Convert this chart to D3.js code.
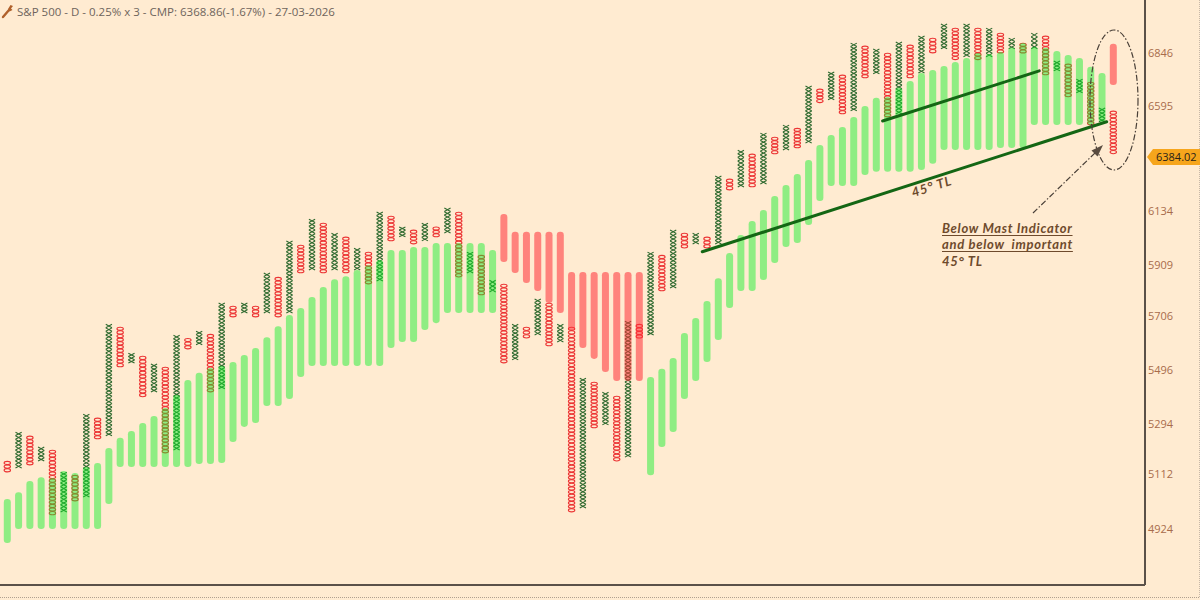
<!DOCTYPE html>
<html><head><meta charset="utf-8">
<script src="https://cdn.jsdelivr.net/npm/d3@7"></script>
<style>html,body{margin:0;padding:0;background:#FFEBD1;}svg{display:block;}</style>
</head><body>
<svg id="chart" width="1200" height="600"></svg>
<script>
// ---- DATA ----
const title = "S&P 500 - D - 0.25% x 3 - CMP: 6368.86(-1.67%) - 27-03-2026";
const tickValues = [6846, 6595, 6134, 5909, 5706, 5496, 5294, 5112, 4924];
const lastPrice = 6384.02;
const boxPct = 0.0025;
// column types (X rising, O falling)
const colType = ["O","X","O","X","O","X","O","X","O","X","O","X","O","X","O","X","O","X","O","X",
 "O","X","O","X","O","X","O","X","O","X","O","X","O","X","O","X","O","X","O","X",
 "O","X","O","X","O","X","O","X","O","X","O","X","O","X","O","X","O","X","O","X",
 "O","X","O","X","O","X","O","X","O","X","O","X","O","X","O","X","O","X","O","X",
 "O","X","O","X","O","X","O","X","O","X","O","X","O","X","O","X","O","X","O"];
const colHigh = [5168,5273,5259,5219,5208,5129,5118,5339,5325,5682,5671,5569,5558,5528,5516,5639,5627,5655,5643,5766,
 5754,5766,5754,5887,5870,6019,6002,6111,6094,6052,6036,5989,5973,6141,6124,6078,6065,6094,6078,6158,
 6141,5973,5960,5858,5842,5682,5671,5782,5766,5682,5671,5474,5459,5421,5406,5694,5682,5973,5960,6065,
 6052,6052,6036,6296,6283,6410,6393,6486,6468,6522,6508,6701,6687,6766,6752,6903,6889,6875,6855,6908,
 6894,6937,6927,6995,6975,6995,6975,6975,6951,6927,6903,6951,6937,6818,6804,6733,6719,6600,6586];
const colLow = [5129,5143,5154,5168,4979,4989,5027,5041,5248,5259,5516,5531,5403,5421,5197,5208,5585,5601,5421,5433,
 5710,5726,5710,5726,5710,5726,5887,5899,5887,5899,5887,5899,5842,5854,6019,6036,6006,6019,6036,6052,
 5870,5887,5798,5810,5531,5543,5627,5639,5597,5612,4989,5003,5288,5299,5168,5182,5627,5639,5814,5826,
 5989,6006,5989,6006,6235,6248,6248,6261,6393,6410,6419,6441,6623,6637,6572,6586,6738,6757,6558,6572,
 6738,6761,6855,6875,6823,6837,6823,6837,6855,6875,6855,6875,6752,6771,6650,6669,6522,6536,6393];
// trend-band ("mast") bars behind the columns
const barColor = ["G","G","G","G","G","G","G","G","G","G","G","G","G","G","G","G","G","G","G","G",
 "G","G","G","G","G","G","G","G","G","G","G","G","G","G","G","G","G","G","G","G",
 "G","G","G","G","R","R","R","R","R","R","R","R","R","R","R","R","R","G","G","G",
 "G","G","G","G","G","G","G","G","G","G","G","G","G","G","G","G","G","G","G","G",
 "G","G","G","G","G","G","G","G","G","G","G","G","G","G","G","G","G","G","R"];
const barHigh = [5034,5058,5097,5111,5108,5133,5126,5147,5161,5215,5252,5277,5306,5332,5362,5410,5467,5494,5512,5520,
 5535,5562,5589,5631,5674,5718,5746,5790,5830,5862,5874,5899,5919,5940,5981,5981,5994,5994,6010,6010,
 6010,6010,6010,5981,6132,6057,6057,6057,6057,6057,5891,5891,5891,5891,5891,5891,5891,5478,5509,5551,
 5647,5706,5774,5866,5969,6044,6103,6149,6209,6257,6305,6366,6432,6477,6513,6558,6609,6646,6650,6692,
 6724,6761,6775,6794,6813,6832,6855,6851,6860,6880,6903,6884,6880,6865,6846,6832,6790,6761,6899];
const barLow = [4883,4931,4931,4931,4931,4931,4931,4931,4931,5017,5147,5147,5147,5147,5147,5147,5147,5158,5158,5161,
 5237,5292,5306,5369,5369,5395,5478,5520,5520,5520,5520,5520,5520,5520,5589,5612,5612,5659,5686,5726,
 5726,5726,5726,5726,5932,5887,5846,5814,5766,5726,5659,5589,5547,5497,5463,5463,5463,5118,5219,5273,
 5395,5463,5535,5620,5746,5814,5814,5858,5928,5994,6010,6086,6188,6252,6252,6252,6300,6314,6314,6314,
 6314,6322,6349,6410,6410,6410,6410,6410,6419,6419,6419,6522,6522,6522,6522,6522,6522,6536,6705];
// trend lines: [column, price] end points
const tlMain = [[61.58, 5974], [97.41, 6537]];
const tlUpper = [[77.56, 6540], [91.44, 6771]];

// ---- CHART ----
const svg = d3.select("#chart");
const W = 1200, H = 600, plotRight = 1145, plotBottom = 585;
svg.append("rect").attr("width", W).attr("height", H).attr("fill", "#FFEBD1");

const x = d3.scaleLinear().domain([0, colType.length - 1]).range([7.3, 1113.3]);
const y = d3.scaleLog().domain([4924, 6846]).range([531, 55]);

const plot = svg.append("g");
svg.append("clipPath").attr("id", "pc").append("rect")
  .attr("x", 0).attr("y", 0).attr("width", plotRight).attr("height", plotBottom);
plot.attr("clip-path", "url(#pc)");

const cols = colType.map((t, i) => ({i, t, hi: colHigh[i], lo: colLow[i], bc: barColor[i], bh: barHigh[i], bl: barLow[i]}));

// X / O boxes
const xo = plot.append("g");
cols.forEach(c => {
  const cx = x(c.i), y0 = y(c.hi), y1 = y(c.lo);
  const n = Math.max(1, Math.round(Math.log(c.hi / c.lo) / Math.log(1 + boxPct)));
  const h = (y1 - y0) / n;
  for (let k = 0; k < n; k++) {
    const t = y0 + h * k, b = t + h, m = t + h / 2;
    if (c.t === "X") {
      xo.append("path")
        .attr("d", `M${cx - 3.1},${t + 0.1}L${cx + 3.1},${b - 0.1}M${cx + 3.1},${t + 0.1}L${cx - 3.1},${b - 0.1}`)
        .attr("stroke", "#2f6a2f").attr("stroke-width", 1.1).attr("fill", "none");
    } else {
      xo.append("ellipse").attr("cx", cx).attr("cy", m).attr("rx", 3.2).attr("ry", Math.max(0.8, h / 2 - 0.2))
        .attr("stroke", "#ec3434").attr("stroke-width", 1.1).attr("fill", "none");
    }
  }
});

// translucent bars on top
plot.append("g").selectAll("rect").data(cols).join("rect")
  .attr("x", d => x(d.i) - 3.5).attr("width", 7)
  .attr("y", d => y(d.bh)).attr("height", d => y(d.bl) - y(d.bh))
  .attr("rx", 3.3)
  .attr("fill", d => d.bc === "G" ? "rgb(10,240,40)" : "rgb(255,45,55)")
  .attr("fill-opacity", d => d.bc === "G" ? 0.46 : 0.55);

// trend lines
const line = d3.line().x(d => x(d[0])).y(d => y(d[1]));
[tlMain, tlUpper].forEach(tl => {
  plot.append("path").attr("d", line(tl)).attr("stroke", "#146614").attr("stroke-width", 3)
    .attr("fill", "none").attr("stroke-linecap", "round");
});

// annotation font
const annFont = "'Lato','DejaVu Sans',sans-serif";
const annColor = "#6e4a2c";
// 45° TL label along line
const lx = x(81.9), ly = y(6250);
svg.append("text").attr("transform", `translate(${lx},${ly}) rotate(-17.8)`)
  .attr("text-anchor", "middle").attr("font-family", annFont).attr("font-style", "italic").attr("font-weight", "bold")
  .attr("font-size", 13).attr("letter-spacing", 0.8).attr("fill", annColor).attr("dy", "0.35em").text("45° TL");

// note block
const noteLines = ["Below Mast Indicator", "and below\u00A0\u00A0important", "45° TL"];
const noteBase = [233, 249, 266];
noteLines.forEach((s, k) => {
  const t = svg.append("text").attr("x", 942).attr("y", noteBase[k])
    .attr("font-family", annFont).attr("font-style", "italic").attr("font-weight", "bold")
    .attr("font-size", 13).attr("letter-spacing", 0.7).attr("fill", annColor).text(s);
  if (k < 2) {
    const w = t.node().getComputedTextLength();
    svg.append("line").attr("x1", 942).attr("x2", 942 + w).attr("y1", noteBase[k] + 2.5).attr("y2", noteBase[k] + 2.5)
      .attr("stroke", annColor).attr("stroke-width", 1);
  }
});

// dashed ellipse & arrow
svg.append("ellipse").attr("cx", 1114).attr("cy", 100).attr("rx", 24).attr("ry", 70)
  .attr("fill", "none").attr("stroke", "#4a4038").attr("stroke-width", 1.2).attr("stroke-dasharray", "6,2,1.5,2");
svg.append("line").attr("x1", 1033).attr("y1", 213).attr("x2", 1096).attr("y2", 152)
  .attr("stroke", "#4a4038").attr("stroke-width", 1.2).attr("stroke-dasharray", "6,2,1.5,2");
svg.append("path").attr("d", "M1103,145 L1091.5,150.5 L1097.5,156.5 Z").attr("fill", "#5a4c40");

// frame lines
svg.append("line").attr("x1", plotRight).attr("x2", plotRight).attr("y1", 0).attr("y2", plotBottom)
  .attr("stroke", "#5b5149").attr("stroke-width", 2);
svg.append("line").attr("x1", 0).attr("x2", plotRight).attr("y1", plotBottom).attr("y2", plotBottom)
  .attr("stroke", "#5b5149").attr("stroke-width", 2);
svg.append("line").attr("x1", 0).attr("x2", W).attr("y1", 597.5).attr("y2", 597.5)
  .attr("stroke", "#b0a090").attr("stroke-width", 1).attr("stroke-dasharray", "1,1");
svg.append("line").attr("x1", 1199.5).attr("x2", 1199.5).attr("y1", 0).attr("y2", 598)
  .attr("stroke", "#c8b8a8").attr("stroke-width", 1).attr("stroke-dasharray", "1,1");

// right axis
const axis = d3.axisRight(y).tickValues(tickValues).tickFormat(d3.format("d")).tickSize(0).tickPadding(3);
const ag = svg.append("g").attr("transform", `translate(${plotRight},-2.5)`).call(axis);
ag.select(".domain").remove();
ag.selectAll("text").attr("font-family", "'Open Sans','Noto Sans',sans-serif").attr("font-size", 11).attr("fill", "#a86c4c");

// last price tag
const ty = y(lastPrice) + 1;
svg.append("path").attr("d", `M1147,${ty} L1153,${ty - 8} L1200,${ty - 8} L1200,${ty + 8} L1153,${ty + 8} Z`).attr("fill", "#f6a51c");
svg.append("text").attr("x", 1156).attr("y", ty).attr("dy", "0.35em")
  .attr("font-family", "'Open Sans','Noto Sans',sans-serif").attr("font-size", 11).attr("fill", "#2a2218").text(lastPrice.toFixed(2));

// title + wrench icon
svg.append("path").attr("d", "M3,17 L9,10").attr("stroke", "#b0602a").attr("stroke-width", 2.4).attr("stroke-linecap", "round");
svg.append("path").attr("d", "M8,9 L10.5,5 L13,6 L11,8.5 L12.5,10 L9.5,11.5 Z").attr("fill", "#b0602a");
svg.append("text").attr("x", 17).attr("y", 16).attr("font-family", "'Open Sans','Noto Sans',sans-serif")
  .attr("font-size", 11.5).attr("fill", "#6e645c").text(title);
</script>
</body></html>
